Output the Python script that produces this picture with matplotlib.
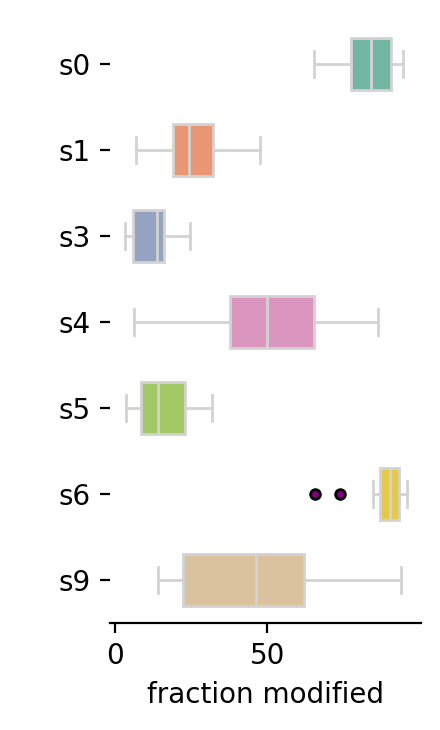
import matplotlib
matplotlib.use("Agg")
import matplotlib.pyplot as plt
import seaborn as sns

# ==========================================================
# DATA (box statistics)
# ==========================================================

samples = ["s0", "s1", "s3", "s4", "s5", "s6", "s9"]

whisker_low = [65.3, 7.0, 3.4, 6.3, 3.7, 84.6, 14.2]
q1 = [77.5, 18.9, 5.8, 37.6, 8.7, 87.0, 22.2]
median = [84.1, 24.3, 13.9, 49.9, 14.0, 90.1, 46.4]
q3 = [90.5, 32.2, 16.2, 65.3, 23.0, 93.1, 61.9]
whisker_high = [94.4, 47.6, 24.7, 86.3, 31.9, 95.8, 93.8]
outliers = [[], [], [], [], [], [65.6, 73.8], []]

# ==========================================================
# STYLE
# ==========================================================

palette = [sns.desaturate(c, 0.75) for c in sns.color_palette("Set2", len(samples))]
line_color = "lightgray"

fig = plt.figure(figsize=(2.2, 3.65), dpi=200)
ax = fig.add_axes([0.25, 0.147, 0.707, 0.824])

stats = []
for i, name in enumerate(samples):
    stats.append({
        "label": name,
        "whislo": whisker_low[i],
        "q1": q1[i],
        "med": median[i],
        "q3": q3[i],
        "whishi": whisker_high[i],
        "fliers": outliers[i],
    })

positions = list(range(len(samples)))

bp = ax.bxp(
    stats,
    positions=positions,
    vert=False,
    widths=0.6,
    patch_artist=True,
    showfliers=True,
    boxprops=dict(edgecolor=line_color, linewidth=1),
    medianprops=dict(color=line_color, linewidth=1),
    whiskerprops=dict(color=line_color, linewidth=1),
    capprops=dict(color=line_color, linewidth=1),
    flierprops=dict(marker="o", markerfacecolor="purple",
                    markeredgecolor="black", markersize=3.5,
                    markeredgewidth=1, linestyle="none"),
)

for patch, color in zip(bp["boxes"], palette):
    patch.set_facecolor(color)

ax.set_ylim(len(samples) - 0.5, -0.5)
ax.set_yticks(positions)
ax.set_yticklabels(samples, fontsize=10)

ax.set_xlim(-1.6, 100.4)
ax.set_xticks([0, 50])
ax.tick_params(axis="x", labelsize=10)
ax.set_xlabel("fraction modified", fontsize=10)

ax.spines["top"].set_visible(False)
ax.spines["right"].set_visible(False)
ax.spines["left"].set_visible(False)

fig.savefig("out.png", dpi=200)
